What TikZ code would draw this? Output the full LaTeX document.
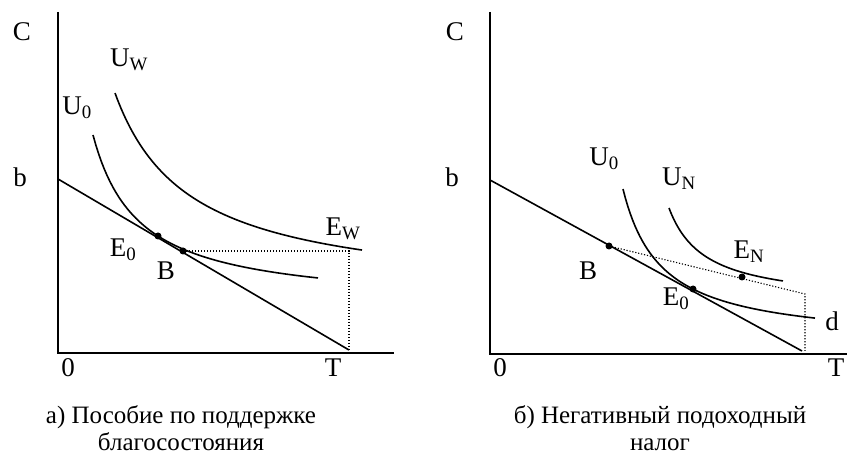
\documentclass[tikz,border=0pt]{standalone}
\usepackage{fontspec}
\setmainfont{Liberation Serif}
\tikzset{
  wf axis/.style={line width=2pt},
  wf line/.style={line width=1.6pt},
  wf curve/.style={line width=1.6pt,samples=80},
  wf guide/.style={line width=1.1pt,dash pattern=on 1.2pt off 1.8pt},
  wf dot/.style={circle,fill,inner sep=0pt,minimum size=7pt},
  wf label/.style={font=\fontsize{27}{30}\selectfont,inner sep=0pt},
  wf caption/.style={font=\fontsize{25}{27}\selectfont,align=center,inner sep=0pt}
}

\begin{document}
\begin{tikzpicture}[x=1pt,y=-1pt]
  \useasboundingbox (0,0) rectangle (847,457);
  % а) welfare benefit
  \coordinate (lTop) at (58,12);
  \coordinate (lO) at (58,353);
  \coordinate (lEnd) at (394,353);
  \coordinate (lb) at (58,179);
  \coordinate (lT) at (349,350);
  \coordinate (lW) at (349,251);
  \draw[wf axis] (lTop)--(lO)--(lEnd);
  \draw[wf line] (lb)--(lT);
  \draw[wf curve,domain=93:318] plot (\x,{307-7861/(\x-47.3)});
  \draw[wf curve,domain=115:362] plot (\x,{297.2-15148/(\x-40.8)});
  \node[wf dot] (lE0) at (158,236) {};
  \node[wf dot] (lB) at (183,251) {};
  \draw[wf guide] (lB.center)--(lW)--(lT);
  \node[wf label] (lC) at (22,32) {C};
  \node[wf label] (lbl) at (20,177) {b};
  \node[wf label] (lzero) at (68,368) {0};
  \node[wf label] (lTl) at (333,368) {T};
  \node[wf label] (lUW) at (129,60) {U\textsubscript{W}};
  \node[wf label] (lU0) at (77,108) {U\textsubscript{0}};
  \node[wf label] (lEW) at (343,229) {E\textsubscript{W}};
  \node[wf label] (lE0l) at (123,250) {E\textsubscript{0}};
  \node[wf label] (lBl) at (166,271) {B};
  \node[wf caption] (lcap) at (181,428) {а) Пособие по поддержке\\благосостояния};

  % б) negative income tax
  \coordinate (rTop) at (490,12);
  \coordinate (rO) at (490,354);
  \coordinate (rEnd) at (847,354);
  \coordinate (rb) at (490,180);
  \coordinate (rT) at (802,351);
  \coordinate (rN) at (805,294);
  \coordinate (rNb) at (805,351);
  \draw[wf axis] (rTop)--(rO)--(rEnd);
  \draw[wf line] (rb)--(rT);
  \draw[wf curve,domain=623:815] plot (\x,{343.9-5946/(\x-584.6)});
  \draw[wf curve,domain=669:783] plot (\x,{304-3456/(\x-633)});
  \node[wf dot] (rB) at (609,246) {};
  \node[wf dot] (rE0) at (693,289) {};
  \node[wf dot] (rEN) at (742,277) {};
  \draw[wf guide] (rB.center)--(rN)--(rNb);
  \node[wf label] (rC) at (455,32) {C};
  \node[wf label] (rbl) at (452,177) {b};
  \node[wf label] (rzero) at (500,368) {0};
  \node[wf label] (rTl) at (836,368) {T};
  \node[wf label] (rU0) at (604,159) {U\textsubscript{0}};
  \node[wf label] (rUN) at (679,179) {U\textsubscript{N}};
  \node[wf label] (rENl) at (749,252) {E\textsubscript{N}};
  \node[wf label] (rBl) at (588,271) {B};
  \node[wf label] (rE0l) at (676,299) {E\textsubscript{0}};
  \node[wf label] (rd) at (832,321) {d};
  \node[wf caption] (rcap) at (660,428) {б) Негативный подоходный\\налог};
\end{tikzpicture}
\end{document}
